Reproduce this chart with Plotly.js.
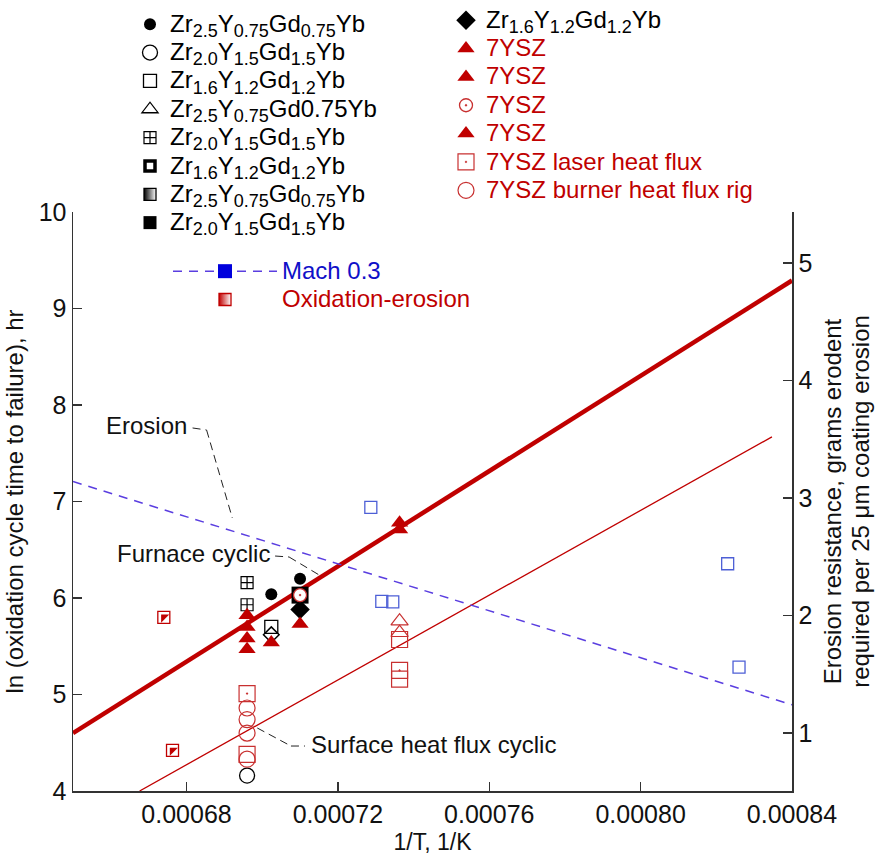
<!DOCTYPE html>
<html><head><meta charset="utf-8">
<script src="https://cdn.plot.ly/plotly-3.0.1.min.js"></script>
<style>html,body{margin:0;padding:0;background:#fff}#chart{width:882px;height:858px}</style>
</head><body><div id="chart"></div>
<script>
// ---------- data ----------
const colA = 0.000696, colB = 0.0007024, colC = 0.00071, colD = 0.0007363;

const thickFitX = [0.00065, 0.00084];
const thickFitY = [4.60, 9.29];
const thinFitX = [0.0006676, 0.0008347];
const thinFitY = [4.00, 7.67];
const erosionFitX = [0.00065, 0.00084];
const erosionFitY = [3.14, 1.24];           // right axis
const machX = [0.0007287, 0.0007316, 0.0007345, 0.000823, 0.000826];
const machY = [2.92, 2.12, 2.115, 2.44, 1.56]; // right axis
const oxErX = [0.000674, 0.0006763];
const oxErY = [5.80, 4.42];

const zrA_X = [colB, colC];  const zrA_Y = [6.04, 6.20];   // filled circle
const zrB_X = [colA];        const zrB_Y = [4.16];         // open circle
const zrC_X = [colB];        const zrC_Y = [5.70];         // open square
const zrE_X = [colA, colA];  const zrE_Y = [6.16, 5.93];   // grid square
const zrF_X = [colC];        const zrF_Y = [6.03];         // black square w/ circle
const zrDiaX = [colC];       const zrDiaY = [5.88];        // filled diamond
const openDiaX = [colB];     const openDiaY = [5.62];      // open diamond

const ysz1X = [colA, colA, colA, colA]; const ysz1Y = [5.82, 5.70, 5.58, 5.47];
const ysz2X = [colB, colC];             const ysz2Y = [5.54, 5.73];
const ysz3X = [colC];                   const ysz3Y = [6.03];
const ysz4X = [colD, colD];             const ysz4Y = [6.78, 6.71];
const yszOpenTriX = [colD, colD];       const yszOpenTriY = [5.76, 5.64];
const laserX = [colA, colA, colD, colD, colD];
const laserY = [5.01, 4.38, 5.57, 5.25, 5.16];
const laserSym = ['square-open-dot', 'square-open', 'square-open', 'square-open-dot', 'square-open'];
const burnerX = [colA, colA, colA, colA];
const burnerY = [4.86, 4.74, 4.60, 4.33];

const xTickVals = [0.00068, 0.00072, 0.00076, 0.00080, 0.00084];
const xTickText = ['0.00068', '0.00072', '0.00076', '0.00080', '0.00084'];
const yTickVals = [4, 5, 6, 7, 8, 9, 10];
const y2TickVals = [1, 2, 3, 4, 5];

// ---------- styles ----------
const FONT = 'Liberation Sans, Arial, Helvetica, sans-serif';
const RED = '#c00000';
const RED_O = '#c83030';
const BLUE_LINE = '#5a3ee0';
const BLUE_SQ = '#4d5fd6';
const BLUE_TXT = '#1010c8';
const BLK = '#000000';

function big(s, color) {
  return '<span style="font-size:24px' + (color ? ';color:' + color : '') + '">' + s + '</span>';
}
const sb = s => '<sub><span style="font-size:18px">' + s + '</span></sub>';
const nZrA = 'Zr' + sb('2.5') + 'Y' + sb('0.75') + 'Gd' + sb('0.75') + 'Yb';
const nZrA2 = 'Zr' + sb('2.5') + 'Y' + sb('0.75') + 'Gd0.75Yb';
const nZrB = 'Zr' + sb('2.0') + 'Y' + sb('1.5') + 'Gd' + sb('1.5') + 'Yb';
const nZrC = 'Zr' + sb('1.6') + 'Y' + sb('1.2') + 'Gd' + sb('1.2') + 'Yb';

const NUL = [null];
const traces = [];
// lines
traces.push({x: thinFitX, y: thinFitY, mode: 'lines', line: {color: RED, width: 1.3}, showlegend: false});
traces.push({x: thickFitX, y: thickFitY, mode: 'lines', line: {color: RED, width: 4.5}, showlegend: false});
traces.push({x: erosionFitX, y: erosionFitY, yaxis: 'y2', mode: 'lines', line: {color: BLUE_LINE, width: 1.5, dash: '9px,7px'}, showlegend: false});
traces.push({x: machX, y: machY, yaxis: 'y2', mode: 'markers', marker: {symbol: 'square-open', size: 12, color: BLUE_SQ, line: {color: BLUE_SQ, width: 1.3}}, showlegend: false});
// oxidation-erosion half-filled squares (overlay)
traces.push({x: oxErX, y: oxErY, mode: 'markers', marker: {symbol: 'square', size: 12, color: 'white', line: {color: RED, width: 1.3}}, showlegend: false});
traces.push({x: oxErX, y: oxErY, mode: 'markers', marker: {symbol: 'triangle-nw', size: 9, color: RED, line: {width: 0}}, showlegend: false});
// helpers without legend
traces.push({x: zrF_X, y: zrF_Y, mode: 'markers', marker: {symbol: 'square', size: 17, color: BLK}, showlegend: false});
traces.push({x: openDiaX, y: openDiaY, mode: 'markers', marker: {symbol: 'diamond', size: 12, color: 'white', line: {color: BLK, width: 1.5}}, showlegend: false});
traces.push({x: yszOpenTriX, y: yszOpenTriY, mode: 'markers', marker: {symbol: 'triangle-up-open', size: 15, color: RED_O, line: {color: RED_O, width: 1.2}}, showlegend: false});

// legend 1
const L1 = 'legend';
traces.push({name: big(nZrA), legend: L1, x: zrA_X, y: zrA_Y, mode: 'markers', marker: {symbol: 'circle', size: 12, color: BLK}});
traces.push({name: big(nZrB), legend: L1, x: zrB_X, y: zrB_Y, mode: 'markers', marker: {symbol: 'circle-open', size: 15, color: BLK, line: {color: BLK, width: 1.3}}});
traces.push({name: big(nZrC), legend: L1, x: zrC_X, y: zrC_Y, mode: 'markers', marker: {symbol: 'square-open', size: 13, color: BLK, line: {color: BLK, width: 1.3}}});
traces.push({name: big(nZrA2), legend: L1, x: NUL, y: NUL, mode: 'markers', marker: {symbol: 'triangle-up-open', size: 14, color: BLK, line: {color: BLK, width: 1.3}}});
traces.push({name: big(nZrB), legend: L1, x: zrE_X, y: zrE_Y, mode: 'markers', marker: {symbol: 'square-cross-open', size: 12, color: BLK, line: {color: BLK, width: 1.2}}});
traces.push({name: big(nZrC), legend: L1, x: NUL, y: NUL, mode: 'markers', marker: {symbol: 'square-open', size: 10, color: BLK, line: {color: BLK, width: 3.5}}});
traces.push({name: big(nZrA), legend: L1, x: NUL, y: NUL, mode: 'markers', marker: {symbol: 'square', size: 12, color: BLK, gradient: {type: 'horizontal', color: 'white'}, line: {color: BLK, width: 1.3}}});
traces.push({name: big(nZrB), legend: L1, x: NUL, y: NUL, mode: 'markers', marker: {symbol: 'square', size: 13, color: BLK}});

// legend 2
const L2 = 'legend2';
traces.push({name: big(nZrC, BLK), legend: L2, x: zrDiaX, y: zrDiaY, mode: 'markers', marker: {symbol: 'diamond', size: 15, color: BLK}});
traces.push({name: big('7YSZ'), legend: L2, x: ysz1X, y: ysz1Y, mode: 'markers', marker: {symbol: 'triangle-up', size: 15, color: RED}});
traces.push({name: big('7YSZ'), legend: L2, x: ysz2X, y: ysz2Y, mode: 'markers', marker: {symbol: 'triangle-up', size: 15, color: RED}});
traces.push({name: big('7YSZ'), legend: L2, x: ysz3X, y: ysz3Y, mode: 'markers', marker: {symbol: 'circle-dot', size: 13, color: 'white', line: {color: RED_O, width: 1.3}}});
traces.push({name: big('7YSZ'), legend: L2, x: ysz4X, y: ysz4Y, mode: 'markers', marker: {symbol: 'triangle-up', size: 15, color: RED}});
traces.push({name: big('7YSZ laser heat flux'), legend: L2, x: laserX, y: laserY, mode: 'markers', marker: {symbol: laserSym, size: 16, color: RED_O, line: {color: RED_O, width: 1.2}}});
traces.push({name: big('7YSZ burner heat flux rig'), legend: L2, x: burnerX, y: burnerY, mode: 'markers', marker: {symbol: 'circle-open', size: 16, color: RED_O, line: {color: RED_O, width: 1.2}}});

// legend 3
const L3 = 'legend3';
traces.push({name: big('Mach 0.3', BLUE_TXT), legend: L3, x: NUL, y: NUL, mode: 'lines+markers', line: {color: BLUE_LINE, width: 1.5, dash: '9px,7px'}, marker: {symbol: 'square', size: 14, color: '#0000dd'}});
traces.push({name: big('Oxidation-erosion', RED), legend: L3, x: NUL, y: NUL, mode: 'markers', marker: {symbol: 'square', size: 12, color: RED, gradient: {type: 'horizontal', color: 'white'}, line: {color: RED, width: 1.3}}});

traces.forEach(t => { t.type = 'scatter'; t.hoverinfo = 'skip'; t.cliponaxis = false; });

const axCommon = {
  ticks: 'inside', ticklen: 9, tickwidth: 1.3, tickcolor: '#333',
  showline: true, linecolor: '#333', linewidth: 1.5,
  showgrid: false, zeroline: false,
  tickfont: {family: FONT, size: 25, color: '#111'}
};

// plot area in pixels: x 73..792, y 212..791
const PX = px => (px - 73) / 719;
const PY = py => (791 - py) / 579;
const legCommon = {
  xref: 'paper', yref: 'paper', xanchor: 'left', yanchor: 'top',
  bgcolor: 'rgba(0,0,0,0)', borderwidth: 0,
  font: {family: FONT, size: 19.5, color: '#000'},
  traceorder: 'normal', itemclick: false, itemdoubleclick: false
};

const ann = (text, x, y, xanchor) => ({text, x, y, xref: 'x', yref: 'y', xanchor: xanchor, yanchor: 'middle',
  showarrow: false, font: {family: FONT, size: 24, color: '#111'}});
const lead = (x0, y0, x1, y1) => ({type: 'line', xref: 'x', yref: 'y', x0, y0, x1, y1,
  line: {color: '#222', width: 1, dash: '8px,5px'}});

const layout = {
  width: 882, height: 858,
  margin: {l: 73, r: 90, t: 212, b: 67, pad: 0, autoexpand: false},
  paper_bgcolor: 'white', plot_bgcolor: 'white',
  font: {family: FONT, size: 22, color: '#111'},
  showlegend: true,
  xaxis: Object.assign({}, axCommon, {
    range: [0.00065, 0.00084], tickvals: xTickVals, ticktext: xTickText,
    title: {text: '1/T, 1/K', font: {family: FONT, size: 23, color: '#111'}, standoff: 7}
  }),
  yaxis: Object.assign({}, axCommon, {
    range: [4, 10], tickvals: yTickVals,
    title: {text: 'ln (oxidation cycle time to failure), hr', font: {family: FONT, size: 24, color: '#111'}, standoff: 8}
  }),
  yaxis2: Object.assign({}, axCommon, {
    overlaying: 'y', side: 'right', range: [0.506, 5.434], tickvals: y2TickVals,
    title: {text: '<span style="font-size:24px">Erosion resistance, grams erodent<br>required per 25 μm coating erosion</span>', font: {family: FONT, size: 21, color: '#111'}, standoff: 15}
  }),
  legend: Object.assign({}, legCommon, {x: PX(130), y: PY(5)}),
  legend2: Object.assign({}, legCommon, {x: PX(446), y: PY(1), font: {family: FONT, size: 19.5, color: RED}}),
  legend3: Object.assign({}, legCommon, {x: PX(168), y: PY(252), itemwidth: 104}),
  annotations: [
    ann('Erosion', 0.0006695, 7.79, 'center'),
    ann('Furnace cyclic', 0.0006818, 6.466, 'center'),
    ann('Surface heat flux cyclic', 0.0007124, 4.477, 'left')
  ],
  shapes: [
    lead(0.0006816, 7.762, 0.0006853, 7.741), lead(0.0006853, 7.741, 0.0006921, 6.829),
    lead(0.0007034, 6.435, 0.0007071, 6.425), lead(0.0007071, 6.425, 0.0007155, 6.228),
    lead(0.0006987, 4.653, 0.0007076, 4.466), lead(0.0007076, 4.466, 0.0007113, 4.466)
  ]
};

Plotly.newPlot('chart', traces, layout, {displayModeBar: false, staticPlot: true});
</script>
</body></html>
